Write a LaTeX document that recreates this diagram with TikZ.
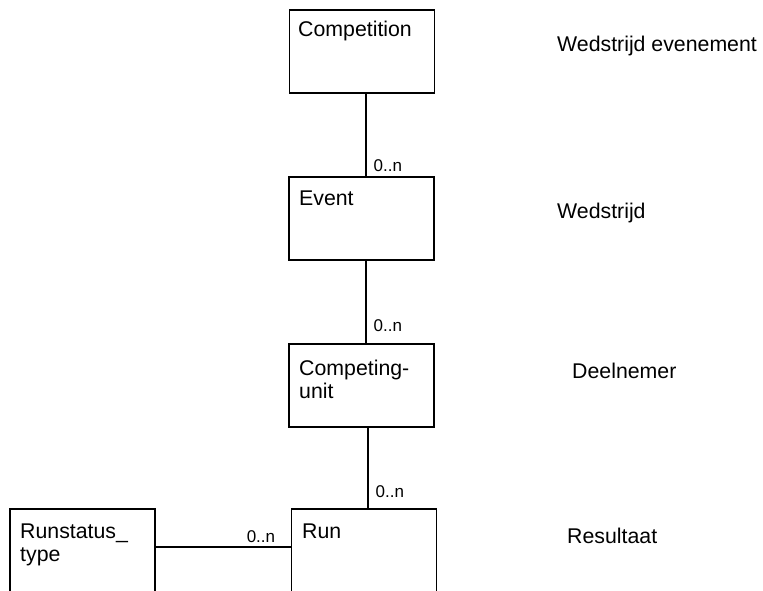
\documentclass[tikz,border=0pt]{standalone}
\usepackage{fontspec}
\setmainfont{Liberation Sans}
\begin{document}
\begin{tikzpicture}[x=1pt,y=-1pt]
% size of each entity box
\def\bw{145pt}
\def\bh{83pt}
% node style definition
\tikzstyle{entity} = [
	draw, rectangle, line width=1.5pt, inner sep=0pt,
	minimum height=\bh, minimum width=\bw ];
\tikzstyle{boxtext} = [anchor=base west, inner sep=0pt, align=left,
	font=\fontsize{21.3}{23}\selectfont];
\tikzstyle{mult} = [inner sep=0pt, font=\fontsize{17}{19}\selectfont];
\tikzstyle{relline} = [line width=1.2pt];

\useasboundingbox (0,0) rectangle (763,591);

% entity boxes
\node[entity] (comp) at (361.75,51.5) {};
\node[entity] (event) at (361.5,218.5) {};
\node[entity] (unit) at (361.5,385.5) {};
\node[entity,minimum height=95pt] (run) at (364,556.5) {};
\node[entity,minimum height=95pt] (rstat) at (82.5,556.5) {};

% names in the boxes (base = last line)
\node[boxtext] (compname) at (298,37) {Competition};
\node[boxtext] (eventname) at (299,205) {Event};
\node[boxtext] (unitname) at (299,398) {Competing-\\unit};
\node[boxtext] (runname) at (302,538) {Run};
\node[boxtext] (rstatname) at (20,561) {Runstatus\_\\type};

% dutch names
\node[boxtext] (compnl) at (557,52) {Wedstrijd evenement};
\node[boxtext] (eventnl) at (557,218) {Wedstrijd};
\node[boxtext] (unitnl) at (572,378) {Deelnemer};
\node[boxtext] (runnl) at (567,543) {Resultaat};

% relations
\draw[relline] ([xshift=4.25pt]comp.south) -- ([xshift=4.5pt]event.north)
	node[mult, pos=1, anchor=base west, xshift=7pt, yshift=5pt] {0..n};
\draw[relline] ([xshift=4.5pt]event.south) -- ([xshift=4.5pt]unit.north)
	node[mult, pos=1, anchor=base west, xshift=7pt, yshift=12pt] {0..n};
\draw[relline] ([xshift=6.5pt]unit.south) -- ([xshift=4pt]run.north)
	node[mult, pos=1, anchor=base west, xshift=7pt, yshift=11pt] {0..n};
\draw[relline] ([yshift=9.5pt]rstat.east) -- ([yshift=9.5pt]run.west)
	node[mult, pos=1, anchor=base east, xshift=-15pt, yshift=5pt] {0..n};
\end{tikzpicture}
\end{document}
